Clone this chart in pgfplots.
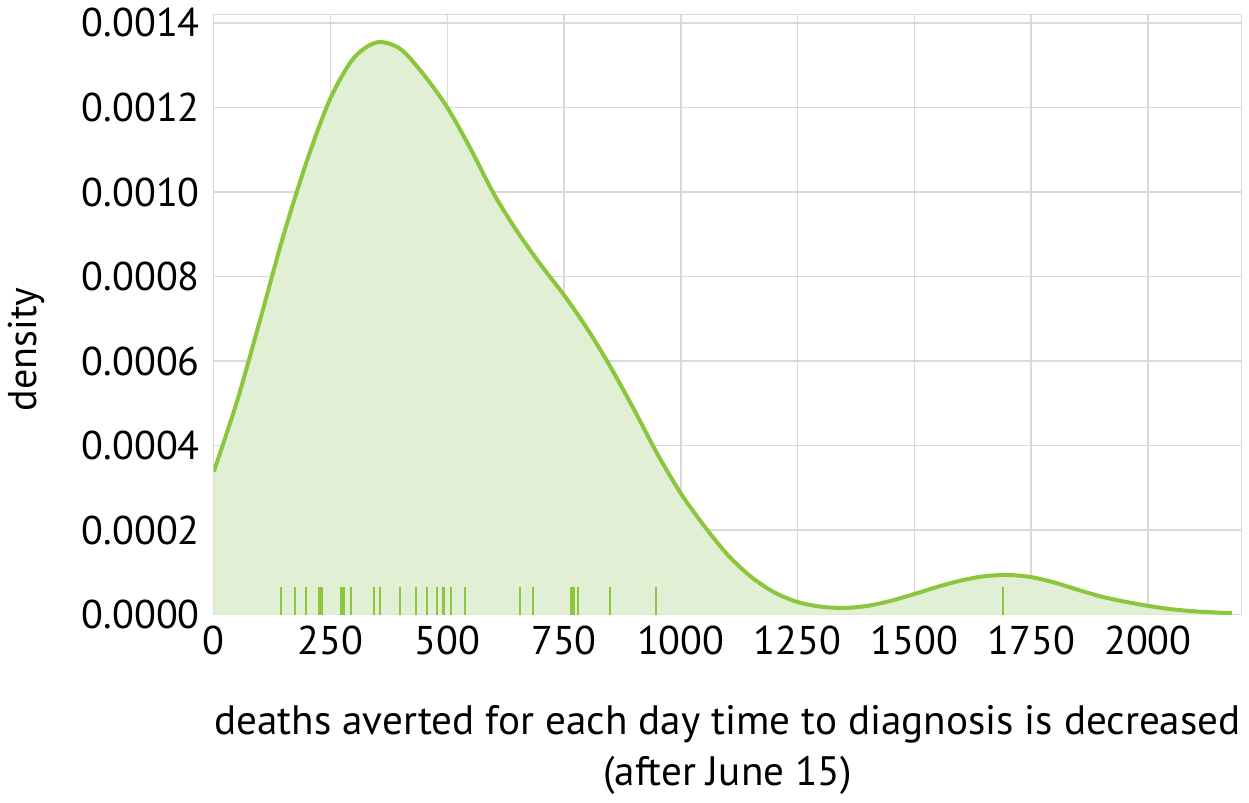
\documentclass[border=0pt]{standalone}
\usepackage{pgfplots}
\pgfplotsset{compat=1.18}
\usepackage{fontspec}
\setmainfont{PT Sans}
\definecolor{lineg}{HTML}{8CC63F}
\definecolor{fillg}{HTML}{E1F0D4}
\definecolor{gridg}{HTML}{D9D9D9}
\pgfplotstableread{
x y
0 0.000338
50 0.000505
100 0.000700
150 0.000900
200 0.001075
250 0.001222
300 0.001317
350 0.001354
400 0.001338
450 0.001277
500 0.001200
550 0.001102
600 0.000995
650 0.000906
700 0.000828
750 0.000756
800 0.000676
850 0.000585
900 0.000485
950 0.000380
1000 0.000287
1050 0.000210
1100 0.000142
1150 0.000090
1200 0.000053
1250 0.000030
1300 0.000019
1350 0.000016
1400 0.000021
1450 0.000033
1500 0.000049
1550 0.000066
1600 0.000081
1650 0.000091
1700 0.000094
1750 0.000089
1800 0.000076
1850 0.000059
1900 0.000043
1950 0.000031
2000 0.000021
2050 0.000013
2100 0.000008
2150 0.000005
2180 0.000004
}\dens
\pgfplotstableread{
x y
144 0.0000665
173 0.0000665
198 0.0000665
225 0.0000665
230 0.0000665
232 0.0000665
273 0.0000665
277 0.0000665
280 0.0000665
295 0.0000665
344 0.0000665
357 0.0000665
399 0.0000665
434 0.0000665
456 0.0000665
479 0.0000665
490 0.0000665
494 0.0000665
509 0.0000665
538 0.0000665
656 0.0000665
684 0.0000665
765 0.0000665
768 0.0000665
772 0.0000665
779 0.0000665
849 0.0000665
947 0.0000665
1689 0.0000665
}\rug
\begin{document}
\begin{tikzpicture}
\begin{axis}[
  scale only axis,
  width=410pt, height=239.5pt,
  xmin=0, xmax=2200, ymin=0, ymax=0.00142,
  xtick={0,250,...,2000},
  ytick={0,0.0002,...,0.0014},
  scaled y ticks=false, scaled x ticks=false,
  yticklabel style={xshift=-2pt, /pgf/number format/fixed, /pgf/number format/fixed zerofill, /pgf/number format/precision=4, /pgf/number format/assume math mode=true},
  xticklabel style={yshift=-1pt, /pgf/number format/1000 sep={}, /pgf/number format/assume math mode=true},
  tick label style={font=\fontsize{16}{19}\selectfont},
  major tick length=0pt,
  grid=major,
  major grid style={gridg, line width=0.6pt},
  axis line style={gridg, line width=0.6pt},
  xlabel={deaths averted for each day time to diagnosis is decreased\\(after June 15)},
  xlabel style={font=\fontsize{16.4}{20.5}\selectfont, align=center, at={(axis description cs:0.5,0)}, anchor=north, yshift=-32.5pt},
  ylabel={density},
  ylabel style={font=\fontsize{16}{19}\selectfont, at={(axis description cs:-0.182,0.442)}, anchor=center, rotate=0},
]
\addplot[fill=fillg, draw=none, smooth] table {\dens} \closedcycle;
\addplot[lineg, line width=1.6pt, smooth] table {\dens};
\addplot[ycomb, lineg, line width=0.8pt, mark=none] table {\rug};
\end{axis}
\end{tikzpicture}
\end{document}
